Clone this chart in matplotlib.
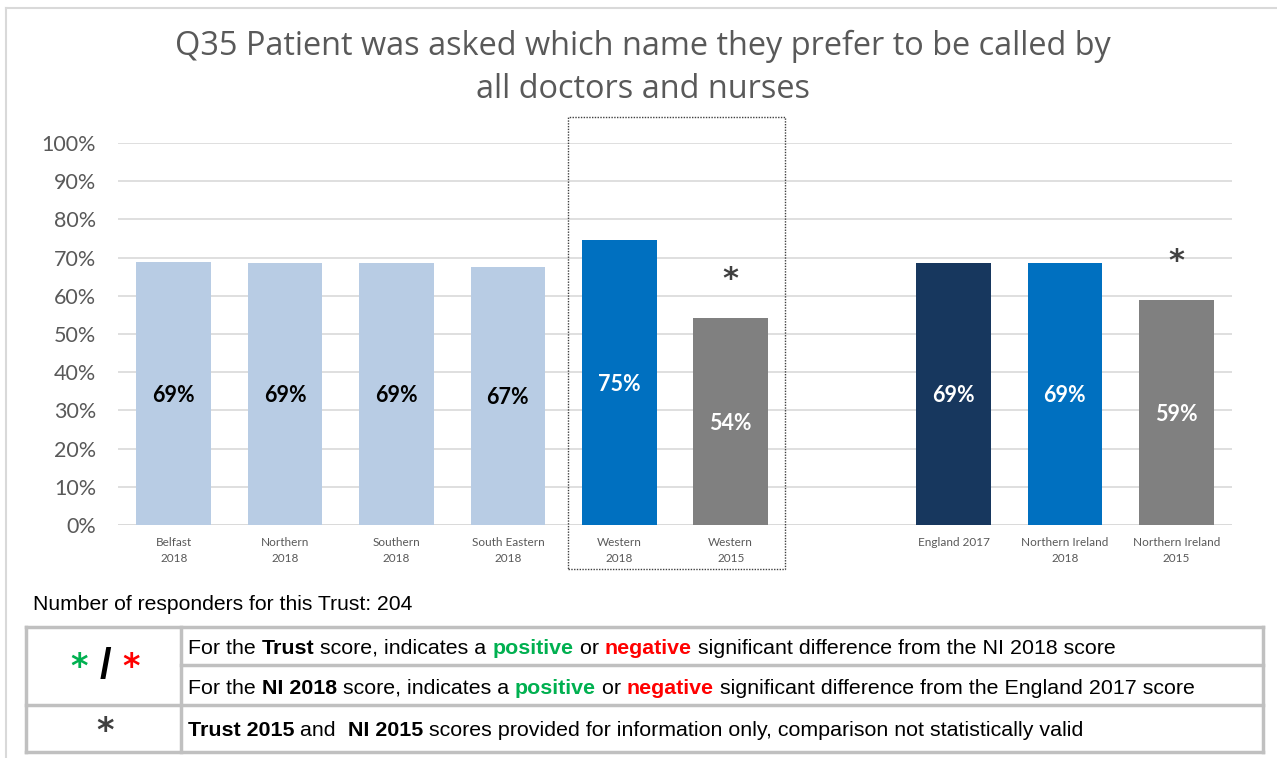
import matplotlib
matplotlib.use("Agg")
import matplotlib.pyplot as plt
from matplotlib.patches import Rectangle
from matplotlib.lines import Line2D

# Data
categories = ["Belfast\n2018", "Northern\n2018", "Southern\n2018", "South Eastern\n2018",
              "Western\n2018", "Western\n2015", "",
              "England 2017", "Northern Ireland\n2018", "Northern Ireland\n2015"]
values = [68.8, 68.6, 68.6, 67.5, 74.6, 54.2, None, 68.6, 68.6, 58.9]
labels = ["69%", "69%", "69%", "67%", "75%", "54%", "", "69%", "69%", "59%"]
colors = ["#B8CCE4", "#B8CCE4", "#B8CCE4", "#B8CCE4", "#0070C0", "#808080", "white",
          "#17375E", "#0070C0", "#808080"]
label_colors = ["black", "black", "black", "black", "white", "white", "white",
                "white", "white", "white"]
star_bars = [5, 9]
yticks = [0, 10, 20, 30, 40, 50, 60, 70, 80, 90, 100]

W, H = 1277, 758
fig = plt.figure(figsize=(W / 100, H / 100), dpi=100)


def px(x, y):
    return x / W, 1 - y / H


# outer border (left and top only)
fig.add_artist(Line2D([6 / W, 6 / W], [0, 1 - 8 / H], color="#D9D9D9", lw=1.5))
fig.add_artist(Line2D([6 / W, 1], [1 - 8 / H] * 2, color="#D9D9D9", lw=1.5))

ax = fig.add_axes([118 / W, 1 - 525 / H, (1232 - 118) / W, (525 - 143) / H])
xs = list(range(len(categories)))
for i, v in enumerate(values):
    if v is None:
        continue
    ax.bar(i, v, width=0.67, color=colors[i], zorder=3)
    ax.text(i, v / 2 - 0.5, labels[i], ha="center", va="center", fontsize=15.5, fontweight="bold",
            color=label_colors[i], family="Lato", zorder=4)
for i in star_bars:
    ax.text(i, values[i] + 10, "*", ha="center", va="center", fontsize=22, fontweight="bold",
            color="#404040", family="DejaVu Sans", zorder=4)

ax.set_xlim(-0.5, 9.5)
ax.set_ylim(0, 100)
ax.set_yticks(yticks)
ax.set_yticklabels([f"{t}%" for t in yticks], fontsize=15.5, color="#595959", family="Lato")
ax.set_xticks(xs)
ax.set_xticklabels(categories, fontsize=8.5, color="#595959", family="Lato", linespacing=1.5)
ax.tick_params(axis="y", length=0, pad=15.8)
ax.tick_params(axis="x", length=0, pad=9)
ax.grid(axis="y", color="#D9D9D9", lw=1.2, zorder=0)
for s in ax.spines.values():
    s.set_visible(False)
ax.axhline(0, color="#D9D9D9", lw=1.8, zorder=2)

# title
fig.text(*px(643, 46), "Q35 Patient was asked which name they prefer to be called by",
         ha="center", va="center", fontsize=23.4, color="#595959", family="Open Sans")
fig.text(*px(643, 89), "all doctors and nurses",
         ha="center", va="center", fontsize=23.4, color="#595959", family="Open Sans")

# dotted box around the trust bars
fig.add_artist(Rectangle(px(568, 569), (785 - 568) / W, (569 - 117) / H,
                         transform=fig.transFigure, fill=False, edgecolor="#404040",
                         lw=1.0, linestyle=(0, (1, 1))))

fig.text(*px(33, 604), "Number of responders for this Trust: 204", ha="left", va="center",
         fontsize=15.2, color="black", family="Liberation Sans")

# legend table
tc = "#C0C0C0"
tl, tr, tt, tb = 26, 1263, 627, 752
for y in [tt, 705, tb]:
    fig.add_artist(Line2D([tl / W, tr / W], [1 - y / H] * 2, color=tc, lw=2.5))
fig.add_artist(Line2D([181 / W, tr / W], [1 - 665 / H] * 2, color=tc, lw=2.5))
for x in [tl, 181, tr]:
    fig.add_artist(Line2D([x / W] * 2, [1 - tt / H, 1 - tb / H], color=tc, lw=2.5))

fig.canvas.draw()
renderer = fig.canvas.get_renderer()


def rich(x, y, parts, size=15.4):
    cur = x
    for txt, color, weight in parts:
        t = fig.text(cur / W, 1 - y / H, txt, ha="left", va="center", fontsize=size,
                     color=color, fontweight=weight, family="Liberation Sans")
        bb = t.get_window_extent(renderer)
        cur += bb.width


green, red = "#00B050", "#FF0000"
rich(188, 648, [("For the ", "black", "normal"), ("Trust", "black", "bold"),
                (" score, indicates a ", "black", "normal"), ("positive", green, "bold"),
                (" or ", "black", "normal"), ("negative", red, "bold"),
                (" significant difference from the NI 2018 score", "black", "normal")])
rich(188, 688, [("For the ", "black", "normal"), ("NI 2018", "black", "bold"),
                (" score, indicates a ", "black", "normal"), ("positive", green, "bold"),
                (" or ", "black", "normal"), ("negative", red, "bold"),
                (" significant difference from the England 2017 score", "black", "normal")])
rich(188, 731, [("Trust 2015", "black", "bold"), (" and  ", "black", "normal"),
                ("NI 2015", "black", "bold"),
                (" scores provided for information only, comparison not statistically valid",
                 "black", "normal")])

# legend symbols
fig.text(*px(79, 667), "*", ha="center", va="center", fontsize=24, fontweight="bold",
         color=green, family="DejaVu Sans")
fig.text(*px(105, 667), "/", ha="center", va="center", fontsize=30, fontweight="bold",
         color="black", family="Liberation Sans")
fig.text(*px(131, 667), "*", ha="center", va="center", fontsize=24, fontweight="bold",
         color=red, family="DejaVu Sans")
fig.text(*px(105, 732), "*", ha="center", va="center", fontsize=24, fontweight="bold",
         color="#404040", family="DejaVu Sans")

fig.savefig("out.png", dpi=100)
